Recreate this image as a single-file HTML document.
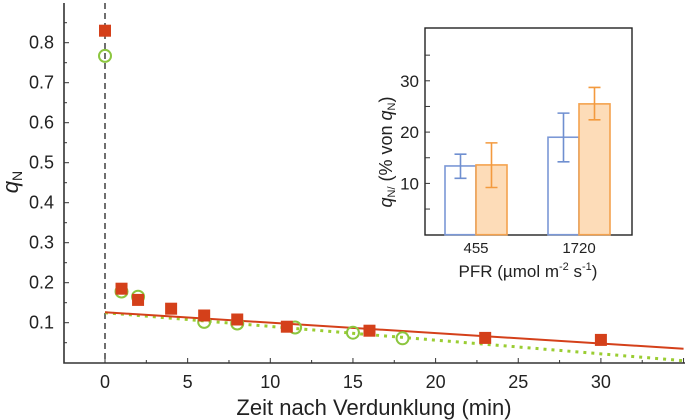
<!DOCTYPE html>
<html><head><meta charset="utf-8"><style>
body{margin:0;background:#fff}
svg{display:block;font-family:"Liberation Sans",sans-serif}
</style></head><body>
<svg id="c" width="685" height="420"></svg>
<script>
const redT=[0,1,2,4,6,8,11,16,23,30];
const redQ=[0.83,0.185,0.157,0.135,0.118,0.108,0.09,0.08,0.062,0.057];
const grnT=[0,1,2,6,8,11.5,15,18];
const grnQ=[0.767,0.178,0.165,0.102,0.098,0.088,0.075,0.061];
const redFit=[[0,0.126],[35,0.035]];
const grnFit=[[0,0.125],[35,0.005]];
const xTicks=[0,5,10,15,20,25,30];
const yTicks=[0.1,0.2,0.3,0.4,0.5,0.6,0.7,0.8];
const insCats=["455","1720"];
const insBlue=[13.4,19];
const insOrange=[13.6,25.5];
const blueErrLo=[11,14.2], blueErrHi=[15.7,23.7];
const orErrLo=[9.2,22.4], orErrHi=[17.9,28.7];
const insTicks=[10,20,30];

const svg=document.getElementById('c');
const NS='http://www.w3.org/2000/svg';
function mk(t,a,txt){const e=document.createElementNS(NS,t);for(const k in a)e.setAttribute(k,a[k]);if(txt!==undefined)e.textContent=txt;svg.appendChild(e);return e;}
const X=t=>105+t*16.53, Y=q=>362.7-q*400;
const IY=v=>234.7-v*5.13;

let e=mk('path',{d:'M64,3 V363 H685',fill:'none',stroke:'#333','stroke-width':1.6});

for(let t=0;t<=35;t+=2.5){const maj=t%5===0;mk('line',{x1:X(t),x2:X(t),y1:363,y2:363-(maj?5:3),stroke:'#333'});}
for(let q=0.05;q<0.9;q+=0.05){const maj=Math.round(q*100)%10===0;mk('line',{x1:64,x2:64+(maj?5:3),y1:Y(q),y2:Y(q),stroke:'#333'});}
xTicks.forEach(t=>{e=mk('text',{x:X(t),y:388,'font-size':18,'text-anchor':'middle',fill:'#222'},t);});
yTicks.forEach(q=>{e=mk('text',{x:54,y:Y(q)+6,'font-size':18,'text-anchor':'end',fill:'#222'},q.toFixed(1));});
e=mk('text',{x:374,y:415,'font-size':22,'text-anchor':'middle',fill:'#222'},'Zeit nach Verdunklung (min)');
e=mk('text',{transform:'translate(18,182) rotate(-90)','font-size':22,'text-anchor':'middle',fill:'#222'});
e.innerHTML='<tspan font-style="italic">q</tspan><tspan font-size="14" dy="4">N</tspan>';
e=mk('line',{x1:X(0),x2:X(0),y1:3,y2:363,stroke:'#222','stroke-dasharray':'6,4','stroke-width':1.3});
e=mk('line',{x1:X(grnFit[0][0]),y1:Y(grnFit[0][1]),x2:X(grnFit[1][0]),y2:Y(grnFit[1][1]),stroke:'#9acd32','stroke-width':3,'stroke-dasharray':'3,5'});
e=mk('line',{x1:X(redFit[0][0]),y1:Y(redFit[0][1]),x2:X(redFit[1][0]),y2:Y(redFit[1][1]),stroke:'#d4401a','stroke-width':2});
grnT.forEach((t,i)=>{e=mk('circle',{cx:X(t),cy:Y(grnQ[i]),r:6,fill:'none',stroke:'#8cc63f','stroke-width':2});});
redT.forEach((t,i)=>{e=mk('rect',{x:X(t)-6,y:Y(redQ[i])-6,width:12,height:12,fill:'#d4401a'});});

// inset
e=mk('rect',{x:425,y:28,width:207,height:207,fill:'#fff',stroke:'#222','stroke-width':1.4});
for(let v=5;v<=35;v+=5){mk('line',{x1:425,x2:430,y1:IY(v),y2:IY(v),stroke:'#333'});}
insTicks.forEach(v=>{e=mk('text',{x:419,y:IY(v)+6,'font-size':17,'text-anchor':'end',fill:'#222'},v);});
const gx=[476,579];
insCats.forEach((c,i)=>{
 e=mk('rect',{x:gx[i]-31,y:IY(insBlue[i]),width:31,height:234.7-IY(insBlue[i]),fill:'#fff',stroke:'#7b98d6','stroke-width':1.6});
 e=mk('rect',{x:gx[i],y:IY(insOrange[i]),width:31,height:234.7-IY(insOrange[i]),fill:'#fddcb8',stroke:'#f4a24e','stroke-width':1.6});
 [[gx[i]-15.5,blueErrLo[i],blueErrHi[i],'#6f8fd0'],[gx[i]+15.5,orErrLo[i],orErrHi[i],'#f39a3e']].forEach(([x,lo,hi,col])=>{
  e=mk('path',{d:`M${x},${IY(lo)}V${IY(hi)}M${x-6},${IY(lo)}H${x+6}M${x-6},${IY(hi)}H${x+6}`,stroke:col,'stroke-width':1.6,fill:'none'});
 });
 e=mk('text',{x:gx[i],y:253,'font-size':15,'text-anchor':'middle',fill:'#222'},c);
});
e=mk('text',{x:528,y:277,'font-size':17,'text-anchor':'middle',fill:'#222'});
e.innerHTML='PFR (µmol m<tspan font-size="11" dy="-7">-2</tspan><tspan dy="7"> s</tspan><tspan font-size="11" dy="-7">-1</tspan><tspan dy="7">)</tspan>';
e=mk('text',{transform:'translate(392,152) rotate(-90)','font-size':18,'text-anchor':'middle',fill:'#222'});
e.innerHTML='<tspan font-style="italic">q</tspan><tspan font-size="11" dy="3">N/</tspan><tspan dy="-3"> (% von </tspan><tspan font-style="italic">q</tspan><tspan font-size="11" dy="3">N</tspan><tspan dy="-3">)</tspan>';
</script>
</body></html>
